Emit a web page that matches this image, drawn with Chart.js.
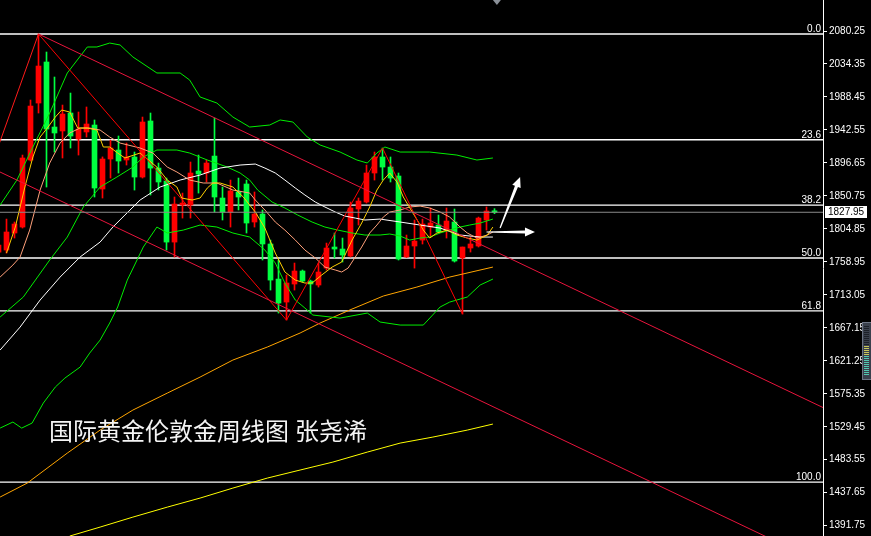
<!DOCTYPE html>
<html>
<head>
<meta charset="utf-8">
<script src="https://cdn.jsdelivr.net/npm/chart.js@4.4.1/dist/chart.umd.min.js"></script>
<style>
  html, body { margin: 0; padding: 0; background: #000; overflow: hidden; }
</style>
</head>
<body>
<canvas id="goldChart" width="871" height="536"></canvas>
<script>
// weekly candles, first one is cut by the left edge
var firstIdx = -1;
var opens  = [1772.6, 1775.4, 1799.1, 1807.4, 1900.7, 1980.0, 2037.1, 1946.6, 1941.1, 1966.1, 1929.9, 1939.7, 1949.4, 1860.3, 1902.1, 1914.6, 1900.7, 1904.9, 1877.0, 1955.0, 1889.5, 1871.4, 1786.5, 1838.0, 1838.0, 1885.4, 1882.6, 1906.2, 1847.8, 1828.3, 1856.2, 1867.3, 1814.4, 1825.5, 1783.8, 1735.0, 1703.0, 1728.1, 1746.2, 1732.2, 1726.7, 1750.3, 1779.6, 1776.8, 1767.0, 1832.5, 1842.2, 1882.6, 1904.9, 1890.9, 1878.4, 1765.7, 1781.0, 1789.3, 1807.4, 1810.2, 1803.2, 1814.4, 1764.3, 1778.2, 1781.0, 1817.2, 1830.0];
var highs  = [1789.3, 1818.5, 1814.4, 1907.6, 1984.2, 2076.1, 2051.0, 2016.2, 1977.2, 1993.9, 1967.5, 1974.5, 1956.4, 1905.0, 1928.5, 1934.1, 1924.3, 1911.8, 1960.5, 1966.1, 1896.5, 1875.6, 1849.2, 1854.7, 1897.9, 1907.6, 1900.7, 1959.1, 1863.1, 1872.8, 1875.6, 1872.8, 1856.2, 1831.1, 1789.3, 1761.5, 1740.6, 1757.3, 1747.6, 1733.6, 1757.3, 1785.1, 1799.1, 1792.1, 1842.2, 1847.8, 1893.7, 1911.8, 1917.4, 1904.9, 1882.6, 1796.3, 1817.2, 1818.5, 1833.9, 1824.1, 1833.9, 1832.5, 1779.6, 1793.5, 1821.3, 1835.3, 1833.0];
var lows   = [1768.4, 1771.2, 1792.1, 1806.0, 1899.3, 1966.1, 1863.1, 1911.8, 1903.5, 1917.4, 1907.6, 1932.7, 1849.2, 1847.8, 1875.6, 1882.6, 1893.7, 1858.9, 1875.6, 1852.0, 1858.9, 1775.4, 1765.7, 1819.9, 1819.9, 1854.7, 1870.1, 1828.3, 1817.2, 1807.4, 1831.1, 1799.1, 1807.4, 1761.5, 1719.7, 1687.7, 1677.9, 1719.7, 1730.9, 1687.7, 1723.9, 1747.6, 1764.3, 1758.7, 1765.7, 1810.2, 1840.8, 1872.8, 1872.8, 1870.1, 1761.5, 1765.0, 1750.3, 1783.8, 1793.5, 1799.1, 1792.1, 1758.7, 1686.3, 1772.6, 1779.6, 1803.2, 1826.0];
var closes = [1782.4, 1800.5, 1811.6, 1903.5, 1975.8, 2031.5, 1943.8, 1938.3, 1964.7, 1934.1, 1943.8, 1950.8, 1861.7, 1902.1, 1917.4, 1899.3, 1904.9, 1877.0, 1953.6, 1889.5, 1870.1, 1786.5, 1839.4, 1840.8, 1882.6, 1881.2, 1896.5, 1849.2, 1828.3, 1857.6, 1849.2, 1813.0, 1825.5, 1783.8, 1733.6, 1701.6, 1729.5, 1746.2, 1732.2, 1728.1, 1744.8, 1778.2, 1776.8, 1768.4, 1833.9, 1843.6, 1882.6, 1904.9, 1890.9, 1875.6, 1762.9, 1781.0, 1787.9, 1811.6, 1813.0, 1800.5, 1815.8, 1760.1, 1779.6, 1783.8, 1819.9, 1829.7, 1827.95];

var priceTicks = [2080.25, 2034.35, 1988.45, 1942.55, 1896.65, 1850.75, 1804.85, 1758.95, 1713.05, 1667.15, 1621.25, 1575.35, 1529.45, 1483.55, 1437.65, 1391.75];
var fibLevels = [2076.1, 1928.9, 1837.9, 1764.3, 1690.7, 1452.5];
var fibLabels = ["0.0", "23.6", "38.2", "50.0", "61.8", "100.0"];
var lastPrice = 1827.95;

// indicator lines, [candle index, price]
var maFast = [[0,1771.2],[1.1,1807.4],[2.3,1863.1],[3.3,1904.9],[4.2,1932.7],[5.2,1946.6],[6.1,1960.5],[6.9,1970.3],[7.9,1967.5],[8.9,1945.2],[10.1,1945.2],[11.3,1942.4],[12.1,1918.8],[12.9,1918.8],[13.9,1910.4],[14.8,1903.5],[16.7,1910.4],[18.8,1890.9],[20.1,1872.8],[21.3,1863.1],[21.9,1847.8],[23.2,1845.0],[24.2,1847.8],[25.1,1861.7],[25.8,1868.7],[26.7,1868.7],[28.3,1863.1],[29.6,1849.2],[30.4,1838.0],[31.1,1828.3],[32.3,1806.0],[33.6,1771.2],[34.8,1744.8],[36.1,1733.6],[37.3,1729.5],[38.2,1729.5],[39.4,1740.6],[40.7,1751.7],[41.9,1758.7],[43.2,1789.3],[44.4,1813.0],[45.4,1835.3],[46.3,1858.9],[47.1,1872.8],[47.9,1882.6],[48.8,1870.1],[49.6,1849.2],[50.8,1826.9],[52.1,1803.2],[52.9,1792.1],[53.8,1799.1],[55.1,1803.2],[56.3,1796.3],[57.6,1792.1],[58.8,1789.3],[60.1,1796.3],[60.8,1807.4]];
var maSlow = [[-0.8,1737.8],[0.8,1754.5],[1.7,1765.7],[2.9,1803.2],[4.2,1858.9],[5.4,1896.5],[6.7,1924.3],[7.9,1938.3],[9.2,1945.2],[10.4,1945.2],[11.7,1942.4],[12.9,1932.7],[14.2,1924.3],[16.7,1917.4],[18.3,1910.4],[20.1,1890.9],[21.3,1884.0],[22.9,1872.8],[24.6,1868.7],[26.3,1868.7],[28.3,1858.9],[30.4,1854.7],[31.1,1845.0],[32.3,1831.1],[33.6,1814.4],[34.8,1803.2],[36.1,1789.3],[37.3,1775.4],[38.6,1764.3],[39.8,1751.7],[41.1,1747.6],[41.9,1744.8],[42.7,1750.3],[43.6,1765.7],[44.4,1779.6],[45.4,1799.1],[46.3,1810.2],[47.1,1821.3],[47.9,1828.3],[49.2,1831.1],[50.4,1835.3],[51.7,1836.6],[52.9,1833.9],[54.2,1828.3],[55.4,1821.3],[56.7,1807.4],[57.6,1799.1],[58.8,1792.1],[60.1,1796.3],[60.8,1800.5]];
var maWhite = [[-0.8,1636.2],[1.7,1668.2],[4.2,1705.8],[6.7,1737.8],[9.2,1765.7],[11.7,1786.5],[13.3,1807.4],[14.8,1824.1],[16.7,1845.0],[19.2,1863.1],[21.7,1872.8],[24.2,1879.8],[26.7,1889.5],[29.2,1893.7],[31.1,1895.1],[32.3,1889.5],[33.6,1882.6],[34.8,1872.8],[36.1,1861.7],[37.3,1852.0],[38.6,1842.2],[39.8,1835.3],[41.1,1828.3],[42.3,1822.7],[43.6,1819.9],[44.8,1817.2],[46.7,1818.5],[49.2,1814.4],[51.7,1810.2],[54.2,1806.0],[56.7,1796.3],[59.2,1793.5],[60.8,1793.5]];
var bandUpper = [[-0.8,1838.0],[1.3,1872.8],[3.3,1918.8],[5.4,1966.1],[7.6,2021.8],[10.1,2058.0],[11.3,2058.0],[12.9,2063.5],[14.2,2060.8],[15.8,2044.1],[18.8,2021.8],[21.7,2021.8],[22.9,2012.0],[24.2,1988.4],[26.3,1980.0],[28.3,1960.5],[30.4,1946.6],[32.9,1949.4],[34.2,1956.4],[35.8,1953.6],[37.6,1932.7],[39.2,1921.6],[41.7,1911.8],[43.8,1900.7],[45.1,1896.5],[46.3,1910.4],[47.3,1918.8],[49.2,1911.8],[52.9,1911.8],[56.3,1907.6],[58.8,1900.7],[60.8,1903.5]];
var bandMid = [[-0.8,1682.1],[2.1,1710.0],[5.4,1761.5],[7.6,1793.5],[9.6,1835.3],[11.7,1863.1],[13.8,1877.0],[15.8,1890.9],[17.1,1904.9],[18.8,1914.6],[21.3,1914.6],[22.9,1910.4],[25.1,1900.7],[27.6,1890.9],[29.2,1882.6],[30.4,1872.8],[31.4,1858.9],[33.2,1842.2],[34.8,1833.9],[36.4,1824.1],[38.2,1814.4],[39.8,1807.4],[41.4,1803.2],[43.2,1799.1],[44.8,1796.3],[46.7,1796.3],[47.9,1797.7],[49.2,1794.9],[50.4,1789.3],[51.7,1792.1],[52.9,1793.5],[54.2,1799.1],[55.4,1803.2],[56.7,1807.4],[57.9,1810.2],[59.2,1813.0],[60.8,1818.5]];
var bandLower = [[-0.8,1527.6],[0.8,1536.0],[1.9,1527.6],[3.2,1534.6],[4.6,1562.4],[6.1,1584.7],[7.3,1597.2],[9.2,1612.5],[10.4,1632.0],[11.7,1650.1],[12.9,1673.8],[13.9,1696.1],[15.1,1733.6],[17.1,1779.6],[18.8,1807.4],[20.1,1799.1],[22.1,1803.2],[24.2,1810.2],[26.3,1807.4],[28.3,1799.1],[30.4,1793.5],[32.3,1775.4],[33.6,1757.3],[34.8,1729.5],[36.1,1705.8],[37.3,1694.7],[38.3,1684.9],[41.7,1680.7],[45.1,1687.7],[46.7,1675.2],[49.2,1671.0],[52.1,1671.0],[54.2,1696.1],[55.4,1703.0],[57.6,1710.0],[59.2,1726.7],[60.8,1735.0]];
var maOrange = [[-0.8,1431.6],[2.6,1451.1],[7.6,1492.8],[11.7,1524.8],[15.8,1552.7],[20.1,1576.3],[24.2,1598.6],[28.3,1622.3],[32.6,1640.4],[36.7,1659.9],[39.2,1673.8],[42.9,1691.9],[47.1,1711.4],[51.3,1723.9],[55.4,1737.8],[60.8,1751.7]];
var maLong = [[7.9,1377.3],[11.7,1389.8],[15.8,1403.7],[20.1,1417.6],[24.2,1430.2],[28.3,1444.1],[32.6,1458.0],[36.7,1469.2],[40.8,1480.3],[45.1,1494.2],[49.2,1506.7],[53.3,1515.1],[57.6,1524.8],[60.8,1533.2]];

// hand drawn objects
var riseLine = [[-1,1920.6],[4,2076.1]];
var channelTop = [[4,2076.1],[105,1540.6]];
var channelBottom = [[-1,1885.0],[105,1323.2]];
var zigzag = [[4,2076.1],[35,1677.9],[47,1917.4],[57,1686.3]];
var arrowUp = [[61.7,1806.0],[64.2,1877.0]];
var arrowRight = [[60.0,1800.5],[66.06,1800.5]];
var titleMain = "国际黄金伦敦金周线图";
var titleAuthor = "张尧浠";

var upColor = "#ff0000";
var downColor = "#00ff40";
var candleColors = closes.map(function (c, k) { return c >= opens[k] ? upColor : downColor; });

function lineSet(pts, color, order, width) {
  return {
    type: "line",
    data: pts.map(function (p) { return { x: p[0], y: p[1] }; }),
    borderColor: color,
    borderWidth: width || 1,
    pointRadius: 0,
    tension: 0,
    fill: false,
    order: order
  };
}

var datasets = [];
fibLevels.forEach(function (v) {
  datasets.push(lineSet([[-2, v], [110, v]], "#ffffff", 30, 1.3));
});
datasets.push({
  type: "bar",
  data: highs.map(function (h, k) { return { x: k + firstIdx, y: [lows[k], h] }; }),
  backgroundColor: candleColors,
  barThickness: 1,
  grouped: false,
  order: 20
});
datasets.push({
  type: "bar",
  data: opens.map(function (o, k) { return { x: k + firstIdx, y: [o, closes[k]] }; }),
  backgroundColor: candleColors,
  barThickness: 5,
  grouped: false,
  order: 19
});
datasets.push(lineSet(maLong, "#ffff00", 12));
datasets.push(lineSet(maOrange, "#ffa500", 12));
datasets.push(lineSet(bandUpper, "#00ee00", 11));
datasets.push(lineSet(bandMid, "#00ee00", 11));
datasets.push(lineSet(bandLower, "#00ee00", 11));
datasets.push(lineSet(maWhite, "#ffffff", 10));
datasets.push(lineSet(maSlow, "#ffa07a", 9));
datasets.push(lineSet(maFast, "#ffd000", 8));
datasets.push(lineSet(riseLine, "#ff1a1a", 6));
datasets.push(lineSet(channelTop, "#e8143c", 6));
datasets.push(lineSet(channelBottom, "#e8143c", 6));
datasets.push(lineSet(zigzag, "#ff0000", 6));
datasets.push(lineSet([[-2, lastPrice], [110, lastPrice]], "#8a8a8a", 4));

function drawArrow(ctx, x1, y1, x2, y2) {
  var ang = Math.atan2(y2 - y1, x2 - x1);
  var len = Math.hypot(x2 - x1, y2 - y1);
  ctx.save();
  ctx.translate(x1, y1);
  ctx.rotate(ang);
  ctx.fillStyle = "#ffffff";
  ctx.beginPath();
  ctx.moveTo(0, -0.6);
  ctx.lineTo(len - 10, -1.6);
  ctx.lineTo(len - 10, -4.5);
  ctx.lineTo(len, 0);
  ctx.lineTo(len - 10, 4.5);
  ctx.lineTo(len - 10, 1.6);
  ctx.lineTo(0, 0.6);
  ctx.closePath();
  ctx.fill();
  ctx.restore();
}

var overlay = {
  id: "overlay",
  beforeDraw: function (chart) {
    var ctx = chart.ctx;
    ctx.save();
    ctx.fillStyle = "#000000";
    ctx.fillRect(0, 0, chart.width, chart.height);
    ctx.restore();
  },
  afterDraw: function (chart) {
    var ctx = chart.ctx;
    var xs = chart.scales.x, ys = chart.scales.y;
    var area = chart.chartArea;
    ctx.save();

    // fibo level names
    ctx.font = "10px 'Liberation Sans'";
    ctx.fillStyle = "#ffffff";
    ctx.textAlign = "right";
    ctx.textBaseline = "alphabetic";
    fibLevels.forEach(function (v, i) {
      ctx.fillText(fibLabels[i], area.right - 2, ys.getPixelForValue(v) - 2);
    });

    // arrows
    drawArrow(ctx, xs.getPixelForValue(arrowUp[0][0]), ys.getPixelForValue(arrowUp[0][1]),
      xs.getPixelForValue(arrowUp[1][0]), ys.getPixelForValue(arrowUp[1][1]));
    drawArrow(ctx, xs.getPixelForValue(arrowRight[0][0]), ys.getPixelForValue(arrowRight[0][1]),
      xs.getPixelForValue(arrowRight[1][0]), ys.getPixelForValue(arrowRight[1][1]));

    // title
    ctx.font = "24px 'Noto Sans CJK SC'";
    ctx.textAlign = "left";
    ctx.textBaseline = "middle";
    ctx.fillStyle = "#f4f4f4";
    ctx.fillText(titleMain, 49, 431);
    ctx.fillText(titleAuthor, 295, 431);

    // last price box on the axis
    var py = Math.round(ys.getPixelForValue(lastPrice));
    ctx.fillStyle = "#ffffff";
    ctx.fillRect(area.right + 2, py - 6, 42, 12);
    ctx.fillStyle = "#000000";
    ctx.font = "10px 'Liberation Sans'";
    ctx.textBaseline = "middle";
    ctx.fillText(lastPrice.toFixed(2), area.right + 5, py + 0.5);

    // chart shift marker
    var mx = xs.getPixelForValue(61.3);
    ctx.fillStyle = "#8a9098";
    ctx.beginPath();
    ctx.moveTo(mx - 4, 0);
    ctx.lineTo(mx + 4, 0);
    ctx.lineTo(mx, 5);
    ctx.closePath();
    ctx.fill();

    // little scroll widget at the right edge
    ctx.fillStyle = "#3a404c";
    ctx.fillRect(862, 322, 9, 58);
    ctx.strokeStyle = "#6c7484";
    ctx.strokeRect(862.5, 322.5, 9, 57);
    for (var r = 326; r < 376; r += 2) {
      ctx.fillStyle = r < 346 ? "#1c2028" : (r < 356 ? "#c8c85a" : "#52c8b0");
      ctx.fillRect(864, r, 5, 1);
    }
    ctx.restore();
  }
};

var chart = new Chart(document.getElementById("goldChart").getContext("2d"), {
  type: "bar",
  data: { datasets: datasets },
  options: {
    responsive: false,
    animation: false,
    events: [],
    layout: { padding: 0 },
    plugins: { legend: { display: false }, tooltip: { enabled: false } },
    scales: {
      x: {
        type: "linear",
        display: false,
        offset: false,
        min: -0.8125,
        max: 102.0625
      },
      y: {
        position: "right",
        min: 1377.4,
        max: 2123.4,
        afterBuildTicks: function (scale) {
          scale.ticks = priceTicks.map(function (v) { return { value: v }; });
        },
        afterFit: function (scale) {
          scale.width = 48;
          scale.paddingTop = 0;
          scale.paddingBottom = 0;
        },
        border: { display: true, color: "#ffffff", width: 1 },
        grid: { drawOnChartArea: false, drawTicks: true, tickLength: 4, color: "#ffffff" },
        ticks: {
          color: "#ffffff",
          padding: 2,
          font: { family: "Liberation Sans", size: 10 },
          callback: function (v) { return Number(v).toFixed(2); }
        }
      }
    }
  },
  plugins: [overlay]
});
</script>
</body>
</html>
